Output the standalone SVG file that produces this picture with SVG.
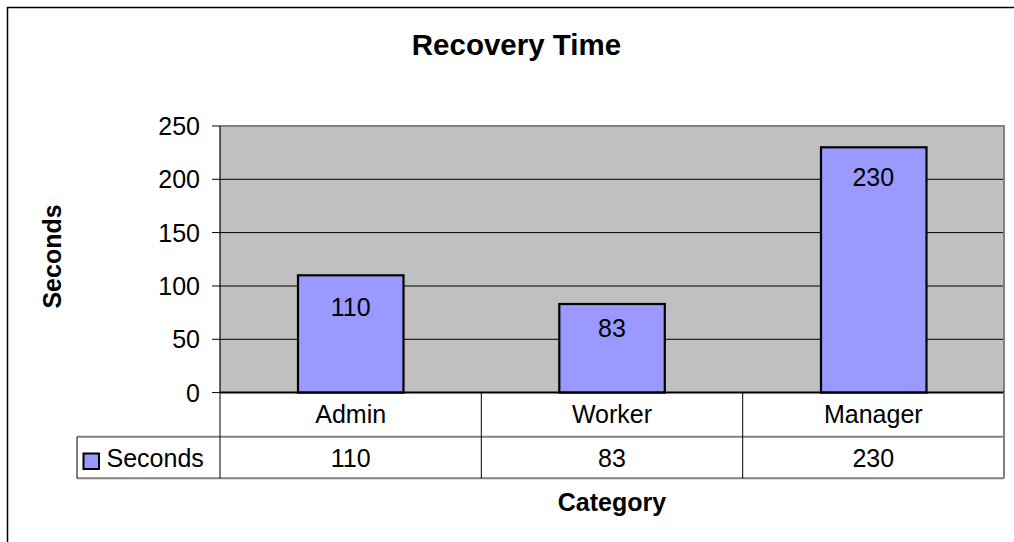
<svg xmlns="http://www.w3.org/2000/svg" width="1014" height="542" viewBox="0 0 1014 542">
<style>
text{font-family:"Liberation Sans",Arial,sans-serif;fill:#000}
.t{font-size:25px}
.b{font-weight:bold}
.grid{stroke:#000;stroke-width:1}
.bar{fill:#9999FF;stroke:#000;stroke-width:2.2}
.tbh{stroke:#808080;stroke-width:2}
.tbv{stroke:#000;stroke-width:1}
</style>
<rect width="1014" height="542" fill="#fff"/>
<g id="frame">
<path d="M7.5,542 V7.5 H1014" fill="none" stroke="#000" stroke-width="1.5"/>
</g>
<g id="title"><text x="516.5" y="55" font-size="29.5" class="b" text-anchor="middle">Recovery Time</text></g>
<g id="plot">
<rect x="220" y="126" width="784" height="266.6" fill="#C0C0C0"/>
<g class="grid">
<line x1="220" y1="179.3" x2="1004" y2="179.3"/>
<line x1="220" y1="232.6" x2="1004" y2="232.6"/>
<line x1="220" y1="286" x2="1004" y2="286"/>
<line x1="220" y1="339.3" x2="1004" y2="339.3"/>
</g>
<path d="M220,126 H1004 V392.6" fill="none" stroke="#808080" stroke-width="2"/>
</g>
<g id="yaxis">
<line x1="220" y1="126" x2="220" y2="392.6" stroke="#000" stroke-width="1.2"/>
<g stroke="#000" stroke-width="1">
<line x1="212" y1="126" x2="220" y2="126"/>
<line x1="212" y1="179.3" x2="220" y2="179.3"/>
<line x1="212" y1="232.6" x2="220" y2="232.6"/>
<line x1="212" y1="286" x2="220" y2="286"/>
<line x1="212" y1="339.3" x2="220" y2="339.3"/>
<line x1="212" y1="392.6" x2="220" y2="392.6"/>
</g>
<g class="t" text-anchor="end">
<text x="200" y="135">250</text>
<text x="200" y="188.3">200</text>
<text x="200" y="241.6">150</text>
<text x="200" y="295">100</text>
<text x="200" y="348.3">50</text>
<text x="200" y="401.6">0</text>
</g>
<text class="b" font-size="25" text-anchor="middle" transform="translate(61,256.5) rotate(-90)">Seconds</text>
</g>
<g id="bar-admin">
<rect class="bar" x="298" y="275.3" width="105.5" height="117.3"/>
<text class="t" x="350.7" y="315.7" text-anchor="middle">110</text>
</g>
<g id="bar-worker">
<rect class="bar" x="559.3" y="304" width="105.5" height="88.6"/>
<text class="t" x="612" y="336.7" text-anchor="middle">83</text>
</g>
<g id="bar-manager">
<rect class="bar" x="821" y="147.3" width="105.5" height="245.3"/>
<text class="t" x="873.3" y="186" text-anchor="middle">230</text>
</g>
<g id="datatable">
<line x1="220" y1="392.6" x2="1004" y2="392.6" stroke="#000" stroke-width="2"/>
<line class="tbh" x1="77" y1="436.7" x2="1004" y2="436.7"/>
<line class="tbh" x1="77" y1="478.3" x2="1004" y2="478.3"/>
<line class="tbv" x1="77" y1="436.7" x2="77" y2="478.3"/>
<line class="tbv" x1="220" y1="392.6" x2="220" y2="478.3"/>
<line class="tbv" x1="481.3" y1="392.6" x2="481.3" y2="478.3"/>
<line class="tbv" x1="742.7" y1="392.6" x2="742.7" y2="478.3"/>
<line x1="1004" y1="392.6" x2="1004" y2="478.3" stroke="#808080" stroke-width="2"/>
<g class="t" text-anchor="middle">
<text x="350.7" y="423.3">Admin</text>
<text x="612" y="423.3">Worker</text>
<text x="873.3" y="423.3">Manager</text>
<text x="350.7" y="466.7">110</text>
<text x="612" y="466.7">83</text>
<text x="873.3" y="466.7">230</text>
</g>
<rect x="83.5" y="453.5" width="15.5" height="15.5" fill="#9999FF" stroke="#000" stroke-width="2"/>
<text class="t" x="106.5" y="466.7">Seconds</text>
</g>
<g id="xtitle"><text class="b" font-size="25" x="612" y="510.5" text-anchor="middle">Category</text></g>
</svg>
